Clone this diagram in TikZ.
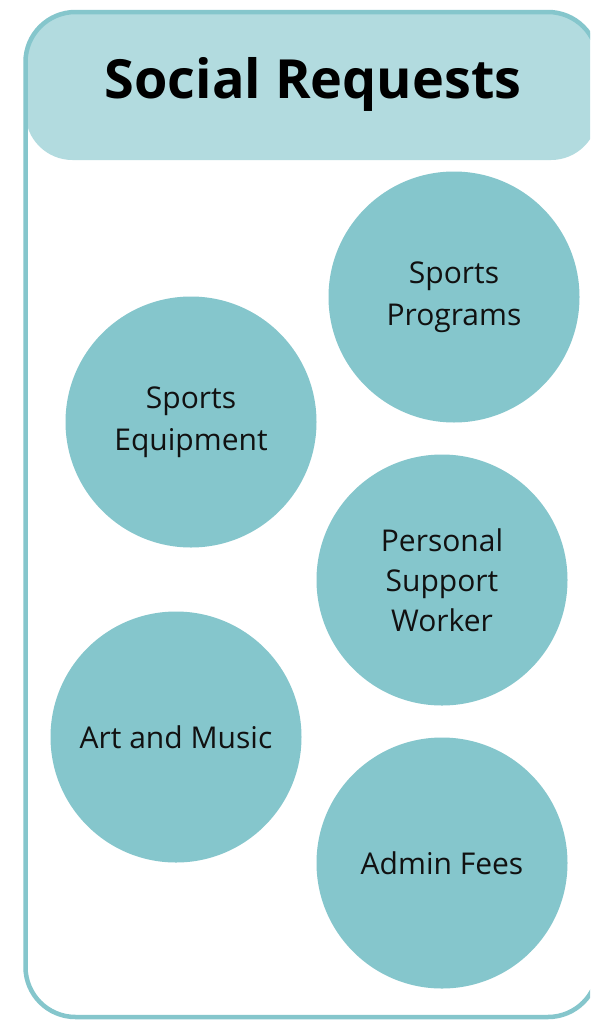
\documentclass[tikz,border=0pt]{standalone}
\usepackage{fontspec}
\setmainfont{Open Sans}
\definecolor{circ}{HTML}{85C6CC}
\definecolor{head}{HTML}{B2DBDF}
\definecolor{txt}{HTML}{111111}
\begin{document}
\begin{tikzpicture}[x=1pt,y=-1pt,
  bubble/.style={circle,fill=circ,minimum size=251pt,inner sep=0pt,align=center,text=txt,font=\fontsize{30}{42}\selectfont},
  frame/.style={draw=circ,line width=4.5pt,rounded corners=50pt}]
\useasboundingbox (0,0) rectangle (590,1020);
\clip (0,0) rectangle (590,1020);
\fill[white] (0,0) rectangle (590,1020);
\fill[head,rounded corners=47pt] (25.5,12) rectangle (598,160);
\draw[frame] (25.5,12) rectangle (598,1017);
\node[font=\bfseries\fontsize{54}{60}\selectfont,text=black] (title) at (313,84) {Social Requests};
\node[bubble] (sp) at (454,297) {Sports\\Programs};
\node[bubble] (se) at (191,422) {Sports\\Equipment};
\node[bubble,font=\fontsize{30}{40}\selectfont] (psw) at (442,580) {Personal\\Support\\Worker};
\node[bubble] (am) at (176,737) {Art and Music};
\node[bubble] (af) at (442,863) {Admin Fees};
\end{tikzpicture}
\end{document}
